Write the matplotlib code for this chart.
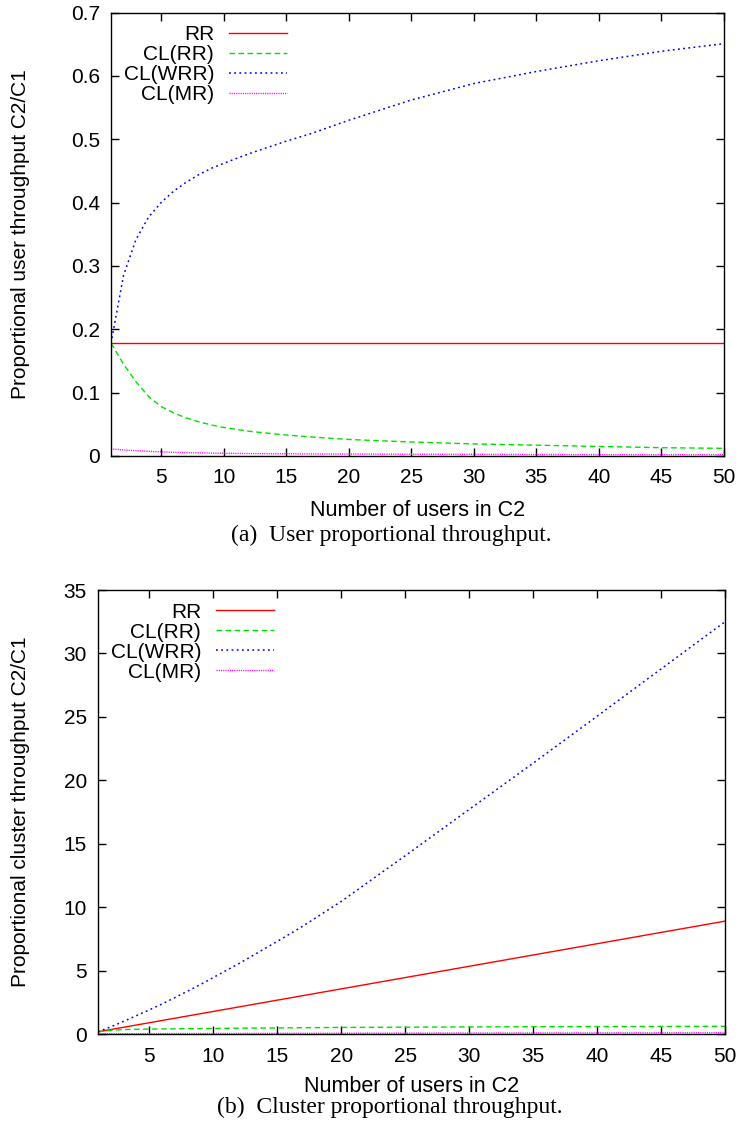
import matplotlib
matplotlib.use("Agg")
import matplotlib.pyplot as plt
import matplotlib.transforms as mtransforms

# -------------------------------
# Proportional throughput C2/C1 vs number of users in C2
# -------------------------------

n_users = [1, 2, 3, 4, 5, 6, 7, 8, 9, 10, 12, 15, 17, 20, 25, 30, 35, 40, 45, 50]

# (a) user proportional throughput
user_rr = [0.178, 0.178, 0.178, 0.178, 0.178, 0.178, 0.178, 0.178, 0.178, 0.178,
           0.178, 0.178, 0.178, 0.178, 0.178, 0.178, 0.178, 0.178, 0.178, 0.178]
user_cl_rr = [0.178, 0.145, 0.117, 0.094, 0.078, 0.068, 0.060, 0.054, 0.049, 0.045,
              0.039, 0.033, 0.030, 0.026, 0.022, 0.019, 0.017, 0.015, 0.013, 0.012]
user_cl_wrr = [0.178, 0.285, 0.342, 0.377, 0.400, 0.418, 0.432, 0.444, 0.454, 0.462,
               0.477, 0.497, 0.509, 0.530, 0.562, 0.588, 0.607, 0.624, 0.639, 0.651]
user_cl_mr = [0.011, 0.0095, 0.0083, 0.0073, 0.0065, 0.0058, 0.0053, 0.0049, 0.0045,
              0.0042, 0.0038, 0.0034, 0.0032, 0.003, 0.0027, 0.0025, 0.0023, 0.0022,
              0.0021, 0.002]

# (b) cluster proportional throughput
cluster_rr = [0.178, 0.356, 0.534, 0.712, 0.89, 1.068, 1.246, 1.424, 1.602, 1.78,
              2.136, 2.67, 3.026, 3.56, 4.45, 5.34, 6.23, 7.12, 8.01, 8.9]
cluster_cl_rr = [0.178, 0.29, 0.35, 0.375, 0.39, 0.40, 0.41, 0.42, 0.43, 0.44,
                 0.46, 0.48, 0.50, 0.52, 0.54, 0.56, 0.58, 0.59, 0.60, 0.61]
cluster_cl_wrr = [0.178, 0.57, 1.0, 1.45, 1.9, 2.37, 2.87, 3.38, 3.9, 4.45,
                  5.55, 7.3, 8.5, 10.45, 14.05, 17.7, 21.35, 25.05, 28.78, 32.5]
cluster_cl_mr = [0.011, 0.019, 0.025, 0.029, 0.032, 0.035, 0.037, 0.039, 0.041, 0.042,
                 0.046, 0.051, 0.054, 0.06, 0.068, 0.075, 0.08, 0.088, 0.095, 0.1]

labels = ["RR", "CL(RR)", "CL(WRR)", "CL(MR)"]
x_ticks = [5, 10, 15, 20, 25, 30, 35, 40, 45, 50]
user_yticks = [0, 0.1, 0.2, 0.3, 0.4, 0.5, 0.6, 0.7]
cluster_yticks = [0, 5, 10, 15, 20, 25, 30, 35]

styles = [
    dict(color="#ff0000", linestyle="-", linewidth=1.0),
    dict(color="#00e000", linestyle=(0, (4, 2.5)), linewidth=1.0),
    dict(color="#0000ff", linestyle=(0, (1.2, 2.2)), linewidth=1.1),
    dict(color="#ff00ff", linestyle=(0, (0.8, 0.8)), linewidth=1.0),
]

sans = "Liberation Sans"
serif = "Liberation Serif"
plt.rcParams["font.family"] = sans


def draw_panel(fig, ax, series, yticks, ylabel, xlabel_xy, caption, caption_xy):
    for vals, lab, st in zip(series, labels, styles):
        ax.plot(n_users, vals, label=lab, **st)
    ax.set_xlim(1, 50)
    ax.set_ylim(yticks[0], yticks[-1])
    ax.set_xticks(x_ticks)
    ax.set_yticks(yticks)
    ax.set_yticklabels([f"{t:g}" for t in yticks])
    ax.tick_params(direction="in", length=6, width=1.0, top=True, right=True,
                   labelsize=15, pad=8)
    ax.tick_params(axis="x", pad=9)
    for sp in ax.spines.values():
        sp.set_linewidth(1.0)
    ax.set_ylabel(ylabel, fontsize=15)
    trans = mtransforms.blended_transform_factory(fig.transFigure, ax.transAxes)
    ax.yaxis.set_label_coords(30 / 742, 0.5, transform=trans)
    ax.legend(loc="upper left", markerfirst=False, frameon=False,
              fontsize=15, handlelength=2.8, handletextpad=0.7,
              labelspacing=0.05, borderaxespad=0.2)
    fig.text(xlabel_xy[0], xlabel_xy[1], "Number of users in C2", ha="center",
             va="center", fontsize=15.5)
    fig.text(caption_xy[0], caption_xy[1], caption, ha="center", va="center",
             fontsize=17, family=serif)


fig = plt.figure(figsize=(7.42, 11.28), dpi=100)
ax1 = fig.add_axes([0.1496, 0.5958, 0.826, 0.393])
ax2 = fig.add_axes([0.1321, 0.0833, 0.845, 0.3936])

draw_panel(fig, ax1, [user_rr, user_cl_rr, user_cl_wrr, user_cl_mr], user_yticks,
           "Proportional user throughput C2/C1", (418 / 742, 1 - 510 / 1128),
           "(a)  User proportional throughput.", (391 / 742, 1 - 535 / 1128))
draw_panel(fig, ax2, [cluster_rr, cluster_cl_rr, cluster_cl_wrr, cluster_cl_mr],
           cluster_yticks, "Proportional cluster throughput C2/C1",
           (412 / 742, 1 - 1087 / 1128),
           "(b)  Cluster proportional throughput.", (390 / 742, 1 - 1107 / 1128))

fig.savefig("out.png", dpi=100)
